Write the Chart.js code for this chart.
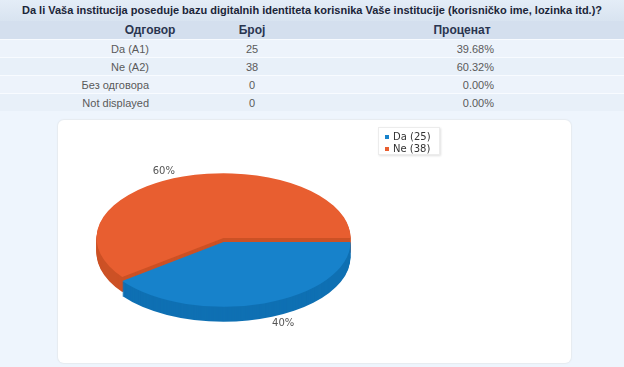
<!DOCTYPE html>
<html><head><meta charset="utf-8">
<script src="https://cdn.jsdelivr.net/npm/chart.js@4/dist/chart.umd.min.js"></script>
<style>
html,body{margin:0;padding:0;width:624px;height:367px;overflow:hidden;background:#eef5fd;font-family:"Liberation Sans",Arial,sans-serif;position:relative;}
#title{position:absolute;left:0;top:0;width:624px;height:21px;background:linear-gradient(#e4edf7,#d8e3f0);font:bold 11px "Liberation Sans Narrow","Liberation Sans",sans-serif;color:#1b2538;text-align:center;line-height:21px;white-space:nowrap;}
#head{position:absolute;left:0;top:21px;width:624px;height:18px;background:#d4dfee;}
.row{position:absolute;left:0;width:624px;height:17px;border-top:1px solid #f8fbff;background:#edf3fb;}
.row.alt{background:#e8f0f9;}
.c{position:absolute;top:0;line-height:18px;font-size:11px;color:#5a5a5a;white-space:nowrap;}
#head .c{font-weight:bold;color:#2a3550;font-family:"Liberation Sans Narrow","Liberation Sans",sans-serif;font-size:12px;}
#panel{position:absolute;left:58px;top:120px;width:513px;height:243px;background:#fff;border-radius:6px;box-shadow:0 0 1px 1px #e6ebf0;}
#chart{position:absolute;left:0;top:0;}
#legend{position:absolute;left:378px;top:127px;width:60px;height:26px;background:#fff;border:1px solid #ececec;box-shadow:1px 1px 2px rgba(0,0,0,.12);font:10px "DejaVu Sans",sans-serif;color:#333;}
#legend div{position:absolute;left:14px;white-space:nowrap;line-height:12px;}
#legend span{position:absolute;left:-8px;top:4px;width:4px;height:4px;}
</style></head>
<body>
<div id="title"></div>
<div id="head"></div>
<div id="rows"></div>
<div id="panel"></div>
<canvas id="chart" width="624" height="367"></canvas>
<div id="legend"></div>
<script>
// ---- data ----
const questionTitle = "Da li Vaša institucija poseduje bazu digitalnih identiteta korisnika Vaše institucije (korisničko ime, lozinka itd.)?";
const tableHeaders = ["Одговор", "Број", "Проценат"];
const answers = ["Da (A1)", "Ne (A2)", "Без одговора", "Not displayed"];
const counts = [25, 38, 0, 0];
const percents = ["39.68%", "60.32%", "0.00%", "0.00%"];
const pieLabels = ["Da", "Ne"];
const pieValues = [25, 38];
const topColors = ["#1782cb", "#e85e30"];
const sideColors = ["#0f70b3", "#cc5125"];
const sliceDrop = [4, 0];

// ---- table ----
document.getElementById('title').textContent = questionTitle;
const head = document.getElementById('head');
const hx = [150, 252, 462];
tableHeaders.forEach((h,i)=>{
  const d=document.createElement('div');d.className='c';d.textContent=h;
  d.style.left=(hx[i]-100)+'px';d.style.width='200px';d.style.textAlign='center';
  head.appendChild(d);
});
const rows=document.getElementById('rows');
answers.forEach((a,i)=>{
  const r=document.createElement('div');r.className='row'+(i%2?' alt':'');
  r.style.top=(39+i*18)+'px';
  const c1=document.createElement('div');c1.className='c';c1.textContent=a;c1.style.right=(624-149)+'px';
  const c2=document.createElement('div');c2.className='c';c2.textContent=counts[i];c2.style.left='202px';c2.style.width='100px';c2.style.textAlign='center';
  const c3=document.createElement('div');c3.className='c';c3.textContent=percents[i];c3.style.right=(624-494)+'px';
  r.append(c1,c2,c3);rows.appendChild(r);
});

// ---- legend ----
const lg=document.getElementById('legend');
pieLabels.forEach((l,i)=>{
  const d=document.createElement('div');d.style.top=(3+i*12)+'px';
  d.innerHTML='<span style="background:'+topColors[i]+'"></span>';
  d.appendChild(document.createTextNode(l+' ('+pieValues[i]+')'));
  lg.appendChild(d);
});

// ---- 3D pie ----
const K = 0.51, DEPTH = 15, LABEL_SHIFT = -6*Math.PI/180, LABEL_F = 1.13;
const total = pieValues.reduce((a,b)=>a+b,0);
function squash(ctx, chart, dy){
  const el = chart.getDatasetMeta(0).data[0];
  ctx.translate(el.x, el.y + dy); ctx.scale(1, K); ctx.translate(-el.x, -el.y);
}
const pie3d = {
  id:'pie3d',
  beforeDatasetsDraw(chart){
    const ctx=chart.ctx, meta=chart.getDatasetMeta(0);
    [1,0].forEach(i=>{
      const el=meta.data[i];
      const p=el.getProps(['x','y','startAngle','endAngle','outerRadius'],true);
      for(let d=DEPTH+sliceDrop[i]; d>sliceDrop[i]; d--){
        ctx.save(); squash(ctx,chart,d);
        ctx.beginPath(); ctx.moveTo(p.x,p.y); ctx.arc(p.x,p.y,p.outerRadius,p.startAngle,p.endAngle); ctx.closePath();
        ctx.fillStyle=sideColors[i]; ctx.fill();
        ctx.restore();
      }
    });
  },
  beforeDatasetDraw(chart){
    const ctx=chart.ctx, meta=chart.getDatasetMeta(0);
    [1,0].forEach(i=>{
      ctx.save(); squash(ctx,chart,sliceDrop[i]); meta.data[i].draw(ctx); ctx.restore();
    });
    return false;
  },
  afterDatasetsDraw(chart){
    const ctx=chart.ctx;
    const meta=chart.getDatasetMeta(0);
    ctx.save();
    ctx.font='10px "DejaVu Sans"'; ctx.fillStyle='#555'; ctx.textAlign='center'; ctx.textBaseline='middle';
    meta.data.forEach((el,i)=>{
      const p=el.getProps(['x','y','startAngle','endAngle','outerRadius'],true);
      const a=(p.startAngle+p.endAngle)/2+LABEL_SHIFT;
      const x=p.x+Math.cos(a)*p.outerRadius*LABEL_F;
      const y=p.y+Math.sin(a)*p.outerRadius*LABEL_F*K+sliceDrop[i]+(Math.sin(a)>0?DEPTH:0);
      ctx.fillText(Math.round(pieValues[i]/total*100)+'%', x, y);
    });
    ctx.restore();
  }
};
new Chart(document.getElementById('chart'),{
  type:'pie',
  data:{labels:pieLabels,datasets:[{data:pieValues,backgroundColor:topColors,borderWidth:0,radius:127}]},
  options:{
    responsive:false, animation:false, events:[], rotation:90,
    layout:{padding:{left:0,right:177,top:109,bottom:0}},
    plugins:{legend:{display:false},tooltip:{enabled:false}}
  },
  plugins:[pie3d]
});
</script>
</body></html>
